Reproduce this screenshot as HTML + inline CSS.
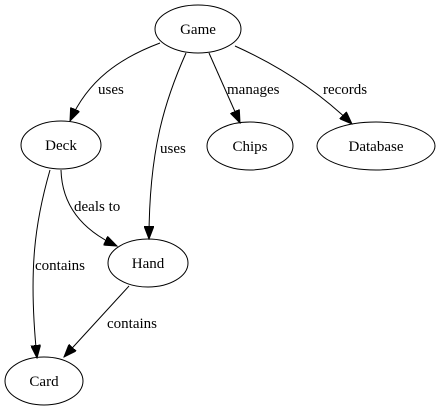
<!DOCTYPE html>
<html><head><style>html,body{margin:0;padding:0;background:#fff;font-family:'Liberation Serif','DejaVu Serif',serif}svg{display:block}</style></head>
<body>
<svg width="441" height="410" viewBox="0 0 441 410" xmlns="http://www.w3.org/2000/svg">
<defs>
<marker id="a" markerUnits="userSpaceOnUse" markerWidth="14" markerHeight="10" refX="13" refY="5" orient="auto">
<path d="M0,0 L13,5 L0,10 z" fill="#000" stroke="#000"/>
</marker>
</defs>
<g fill="none" stroke="#000" stroke-width="1">
<ellipse cx="198" cy="29" rx="43" ry="24"/>
<ellipse cx="61" cy="145" rx="40" ry="24"/>
<ellipse cx="250" cy="146" rx="43" ry="24"/>
<ellipse cx="376" cy="146" rx="59" ry="24"/>
<ellipse cx="148" cy="263" rx="40" ry="24"/>
<ellipse cx="44" cy="381" rx="39" ry="24"/>
<path d="M160,43 C120,58 88,80 70,121" marker-end="url(#a)"/>
<path d="M186,53 C165,100 149,150 149,239" marker-end="url(#a)"/>
<path d="M209,53 L240,123" marker-end="url(#a)"/>
<path d="M235,46 C275,64 315,88 352,124" marker-end="url(#a)"/>
<path d="M61,170 C62,205 82,230 117,246" marker-end="url(#a)"/>
<path d="M50,170 C35,222 28,270 37,358" marker-end="url(#a)"/>
<path d="M129,286 L64,357" marker-end="url(#a)"/>
</g>
<g fill="#000" style="font-family:'Liberation Serif','DejaVu Serif',serif;font-size:15px">
<g text-anchor="middle">
<text x="198" y="34">Game</text>
<text x="61" y="150">Deck</text>
<text x="250" y="151">Chips</text>
<text x="376" y="151">Database</text>
<text x="148" y="268">Hand</text>
<text x="44" y="386">Card</text>
</g>
<text x="98" y="94">uses</text>
<text x="160" y="153">uses</text>
<text x="227" y="94">manages</text>
<text x="323" y="94">records</text>
<text x="74" y="211">deals to</text>
<text x="35" y="270">contains</text>
<text x="107" y="328">contains</text>
</g>
</svg>
</body></html>
